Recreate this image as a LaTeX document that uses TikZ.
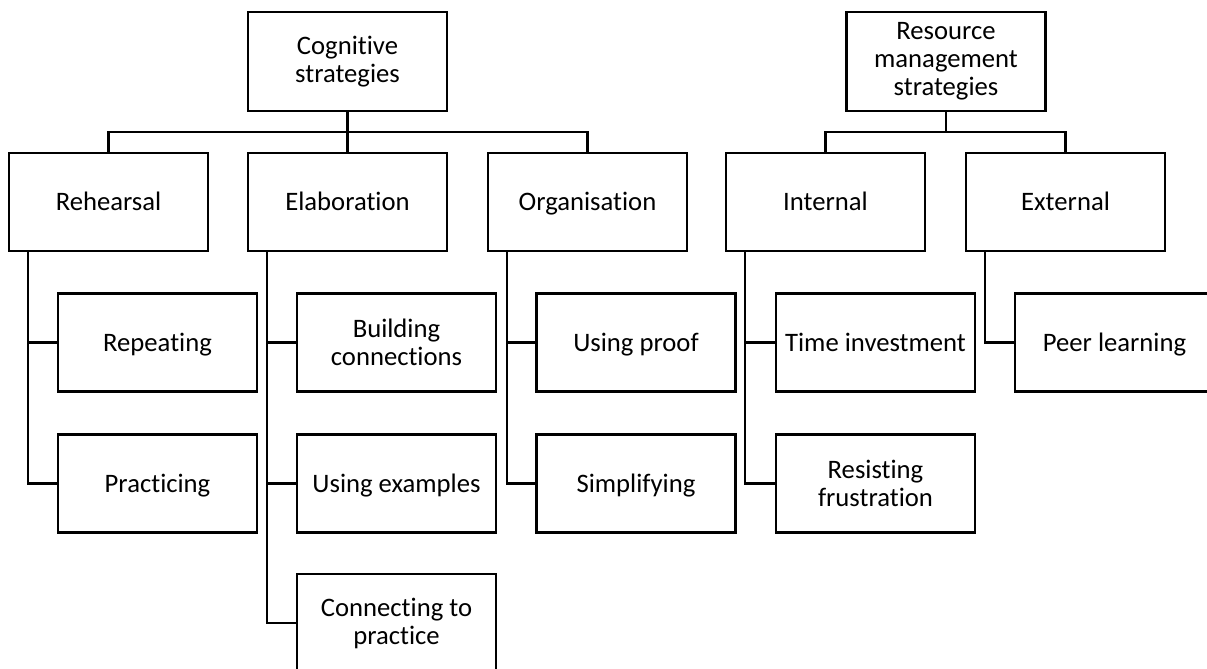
\documentclass[tikz,border=0pt]{standalone}
\usepackage{fontspec}
\setmainfont{Carlito}[Ligatures=NoCommon]
\begin{document}
\begin{tikzpicture}[x=0.75pt,y=-0.75pt,
  box/.style={draw=black,line width=1.7pt,minimum width=149.25pt,minimum height=73.5pt,inner sep=0pt,align=center,font=\fontsize{20}{21}\selectfont},
  onebox/.style={box,text height=16pt,text depth=3.2pt},
  topbox/.style={box,minimum height=74.25pt},
  link/.style={draw=black,line width=1.7pt}]
\clip (0,0) rectangle (1207,668);
\fill[white] (0,0) rectangle (1207,668);
% top level
\node[topbox] (cog) at (347.5,61.5) {Cognitive\\strategies};
\node[topbox] (res) at (946,61.5) {Resource\\management\\strategies};
% second row
\node[onebox] (reh) at (108.5,202) {Rehearsal};
\node[onebox] (ela) at (347.5,202) {Elaboration};
\node[onebox] (org) at (587.5,202) {Organisation};
\node[onebox] (int) at (825.5,202) {Internal};
\node[onebox] (ext) at (1065.5,202) {External};
% children
\node[onebox] (rep) at (157.5,342.5) {Repeating};
\node[onebox] (pra) at (157.5,483.5) {Practicing};
\node[box] (bui) at (396.5,342.5) {Building\\connections};
\node[onebox] (exa) at (396.5,483.5) {Using examples};
\node[box] (con) at (396.5,623) {Connecting to\\practice};
\node[onebox] (pro) at (636,342.5) {Using proof};
\node[onebox] (sim) at (636,483.5) {Simplifying};
\node[onebox] (tim) at (875.5,342.5) {Time investment};
\node[box] (fru) at (875.5,483.5) {Resisting\\frustration};
\node[onebox] (pee) at (1114.5,342.5) {Peer learning};
% junction coordinates
\path (reh.north) ++(0,-20) coordinate (cj);
\path (int.north) ++(0,-20) coordinate (rj);
% top connectors
\draw[link] (cog.south) -- (ela.north);
\draw[link] (reh.north) |- (cj) -| (org.north);
\draw[link] (res.south) -- (res.south |- rj);
\draw[link] (int.north) |- (rj) -| (ext.north);
% trunks
\draw[link] ([xshift=15pt]reh.south west) |- (pra.west);
\draw[link] ([xshift=15pt]reh.south west) |- (rep.west);
\draw[link] ([xshift=15pt]ela.south west) |- (con.west);
\draw[link] ([xshift=15pt]ela.south west) |- (bui.west);
\draw[link] ([xshift=15pt]ela.south west) |- (exa.west);
\draw[link] ([xshift=15pt]org.south west) |- (sim.west);
\draw[link] ([xshift=15pt]org.south west) |- (pro.west);
\draw[link] ([xshift=15pt]int.south west) |- (fru.west);
\draw[link] ([xshift=15pt]int.south west) |- (tim.west);
\draw[link] ([xshift=15pt]ext.south west) |- (pee.west);
\end{tikzpicture}
\end{document}
